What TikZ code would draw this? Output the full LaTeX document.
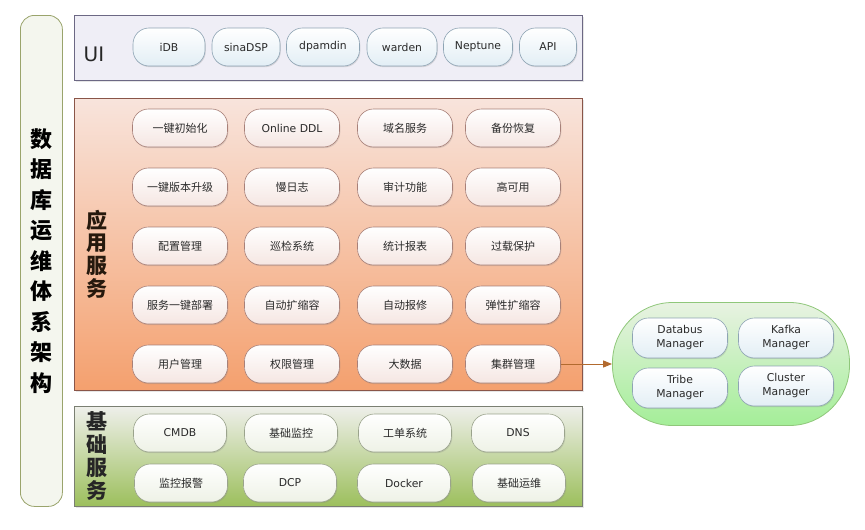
\documentclass[tikz,border=0pt]{standalone}
\usepackage{fontspec}
\setmainfont{Noto Sans CJK SC}
\newfontfamily\latinfont{DejaVu Sans}
\usetikzlibrary{positioning, arrows.meta, shadows}
\definecolor{barfill}{HTML}{F4F6EE}
\definecolor{baredge}{HTML}{9AA46C}
\definecolor{uifill}{HTML}{EFEEF6}
\definecolor{uiedge}{HTML}{6C6884}
\definecolor{apptop}{HTML}{F8E4DC}
\definecolor{appbot}{HTML}{F4A06E}
\definecolor{appedge}{HTML}{8A5548}
\definecolor{basetop}{HTML}{EEEFEA}
\definecolor{basebot}{HTML}{9CBF5C}
\definecolor{baseedge}{HTML}{7A7F72}
\definecolor{mgrtop}{HTML}{E8F2E2}
\definecolor{mgrbot}{HTML}{A4EE98}
\definecolor{mgredge}{HTML}{8FC77A}
\definecolor{bluepill}{HTML}{E2EEF5}
\definecolor{bluepilledge}{HTML}{8EA4B4}
\definecolor{pinkpill}{HTML}{F5E6E2}
\definecolor{pinkpilledge}{HTML}{A88078}
\definecolor{greenpill}{HTML}{EEF2E6}
\definecolor{greenpilledge}{HTML}{9AA38C}
\definecolor{linkcol}{HTML}{B26A2E}
\definecolor{txt}{HTML}{2A2A2A}

\begin{document}
\begin{tikzpicture}[x=1pt, y=-1pt, >={Triangle[length=9pt, width=7pt]},
  layer/.style={draw, line width=1pt, anchor=north west, inner sep=0pt,
    drop shadow={opacity=0.2, shadow xshift=1pt, shadow yshift=-1.5pt}},
  pill/.style={draw, rounded corners=16pt, minimum height=38pt, inner sep=1pt, text=txt,
    font=\fontsize{11}{13}\selectfont, line width=0.6pt,
    drop shadow={opacity=0.25, shadow xshift=0.8pt, shadow yshift=-1.2pt}},
  lat/.style={font=\latinfont\fontsize{10.8}{14}\selectfont},
  uipill/.style={pill, lat, draw=bluepilledge, top color=white, bottom color=bluepill},
  apppill/.style={pill, minimum width=95pt, draw=pinkpilledge, top color=white, bottom color=pinkpill},
  basepill/.style={pill, minimum width=93pt, draw=greenpilledge, top color=white, bottom color=greenpill},
  mgrpill/.style={pill, lat, minimum width=95pt, minimum height=40pt, align=center,
    draw=bluepilledge, top color=white, bottom color=bluepill},
  title/.style={font=\fontsize{21}{22.7}\selectfont\bfseries, align=center}]
\useasboundingbox (0,0) rectangle (865,530);
% left column: whole stack
\node[draw=baredge, fill=barfill, line width=0.8pt, rounded corners=14pt, minimum width=42pt,
  minimum height=491pt, anchor=north west, inner sep=0pt, align=center,
  font=\fontsize{22}{30.5}\selectfont\bfseries] (stack) at (20,15)
  {数\\据\\库\\运\\维\\体\\系\\架\\构};
% three layers
\node[layer, draw=uiedge, fill=uifill, minimum width=508pt, minimum height=65pt] (ui) at (74,15) {};
\node[layer, draw=appedge, top color=apptop, bottom color=appbot, minimum width=508pt, minimum height=292pt] (app) at (74,98) {};
\node[layer, draw=baseedge, top color=basetop, bottom color=basebot, minimum width=508pt, minimum height=100pt] (base) at (74,406) {};
\node[font=\latinfont\fontsize{20}{24}\selectfont, text=black!85] (uititle) at (94,54) {UI};
\node[title, text=black!80!brown] (apptitle) at (97,254) {应\\用\\服\\务};
\node[title, text=black!85] (basetitle) at (97,456) {基\\础\\服\\务};
% UI layer
\node[uipill, minimum width=72pt] (idb)     at (169,47) {iDB};
\node[uipill, minimum width=68pt] (sinadsp) at (246,47) {sinaDSP};
\node[uipill, minimum width=73pt] (dpamdin) at (323,47) {dpamdin};
\node[uipill, minimum width=70pt] (warden)  at (402,47) {warden};
\node[uipill, minimum width=69pt] (neptune) at (478,47) {Neptune};
\node[uipill, minimum width=57pt] (api)     at (548,47) {API};
% application layer
\node[apppill] (a11) at (180,128) {一键初始化};
\node[apppill, lat] (a12) at (292,128) {Online DDL};
\node[apppill] (a13) at (405,128) {域名服务};
\node[apppill] (a14) at (513,128) {备份恢复};
\node[apppill] (a21) at (180,187) {一键版本升级};
\node[apppill] (a22) at (292,187) {慢日志};
\node[apppill] (a23) at (405,187) {审计功能};
\node[apppill] (a24) at (513,187) {高可用};
\node[apppill] (a31) at (180,246) {配置管理};
\node[apppill] (a32) at (292,246) {巡检系统};
\node[apppill] (a33) at (405,246) {统计报表};
\node[apppill] (a34) at (513,246) {过载保护};
\node[apppill] (a41) at (180,305) {服务一键部署};
\node[apppill] (a42) at (292,305) {自动扩缩容};
\node[apppill] (a43) at (405,305) {自动报修};
\node[apppill] (a44) at (513,305) {弹性扩缩容};
\node[apppill] (a51) at (180,364) {用户管理};
\node[apppill] (a52) at (292,364) {权限管理};
\node[apppill] (a53) at (405,364) {大数据};
\node[apppill] (a54) at (513,364) {集群管理};
% base layer
\node[basepill, lat] (b11) at (180,433) {CMDB};
\node[basepill] (b12) at (291,433) {基础监控};
\node[basepill] (b13) at (405,433) {工单系统};
\node[basepill, lat] (b14) at (518,433) {DNS};
\node[basepill] (b21) at (181,483) {监控报警};
\node[basepill, lat] (b22) at (290,483) {DCP};
\node[basepill, lat] (b23) at (404,483) {Docker};
\node[basepill] (b24) at (519,483) {基础运维};
% cluster managers
\node[draw=mgredge, top color=mgrtop, bottom color=mgrbot, line width=0.8pt, rounded corners=60pt,
  minimum width=237pt, minimum height=123pt] (mgr) at (731,364) {};
\node[mgrpill] (databus) at (680,338) {Databus\\Manager};
\node[mgrpill] (kafka)   at (786,338) {Kafka\\Manager};
\node[mgrpill] (tribe)   at (680,388) {Tribe\\Manager};
\node[mgrpill] (cluster) at (786,386) {Cluster\\Manager};
\draw[->, linkcol, line width=1pt] (a54.east) -- (a54.east -| mgr.west);
\end{tikzpicture}
\end{document}
